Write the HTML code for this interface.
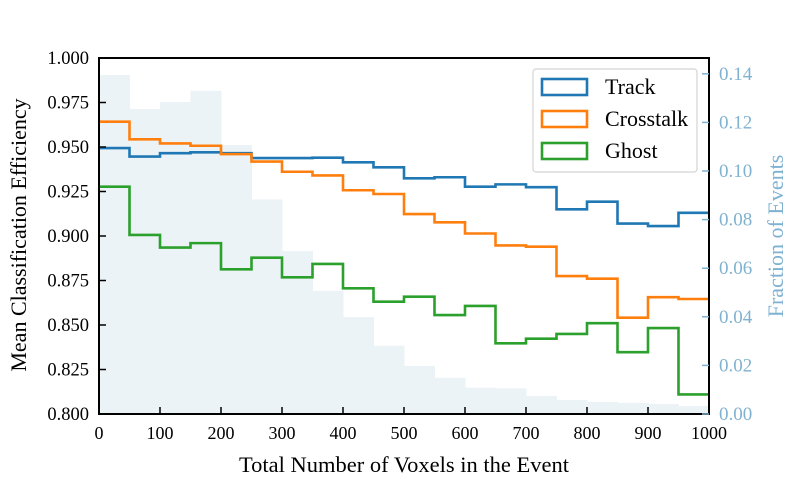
<!DOCTYPE html>
<html><head><meta charset="utf-8"><style>
html,body{margin:0;padding:0;background:#fff;}
svg{display:block;font-family:"Liberation Serif",serif;}
</style></head><body>
<svg id="chart" width="789" height="488" viewBox="0 0 789 488" xmlns="http://www.w3.org/2000/svg"></svg>
<script>
const binEdges=[0,50,100,150,200,250,300,350,400,450,500,550,600,650,700,750,800,850,900,950,1000];
const trackVals=[0.9494,0.9446,0.9465,0.947,0.9465,0.9438,0.9438,0.944,0.9414,0.9386,0.9324,0.933,0.9277,0.929,0.9274,0.915,0.9193,0.907,0.9056,0.913];
const crosstalkVals=[0.9642,0.9543,0.952,0.9507,0.946,0.9418,0.9361,0.934,0.9257,0.9236,0.9123,0.9077,0.9014,0.8947,0.894,0.8775,0.876,0.8541,0.8656,0.8646];
const ghostVals=[0.9277,0.9006,0.8935,0.896,0.8813,0.8878,0.8768,0.8843,0.8706,0.8631,0.8659,0.8556,0.8607,0.8397,0.8423,0.845,0.851,0.8347,0.8483,0.811];
const fractionVals=[0.1395,0.1255,0.1284,0.133,0.1107,0.0883,0.067,0.0507,0.0399,0.0281,0.0198,0.0149,0.0108,0.0106,0.0074,0.0058,0.005,0.0046,0.0041,0.0033];
const xTicks=[0,100,200,300,400,500,600,700,800,900,1000];
const yTicks=[0.800,0.825,0.850,0.875,0.900,0.925,0.950,0.975,1.000];
const y2Ticks=[0,0.02,0.04,0.06,0.08,0.10,0.12,0.14];

const L=99,R=709,T=58,B=414;
const NS="http://www.w3.org/2000/svg";
const svg=document.getElementById('chart');
function X(v){return L+(v-0)/(1000-0)*(R-L);}
function Y(v){return B-(v-0.8)/(0.2)*(B-T);}
function Y2(v){return B-v/0.02*48.6;}
function mk(tag,attrs,parent){const e=document.createElementNS(NS,tag);for(const k in attrs)e.setAttribute(k,attrs[k]);(parent||svg).appendChild(e);return e;}

const hist=mk('g',{});


fractionVals.forEach((f,i)=>{
  const r=mk('rect',{x:X(binEdges[i]),y:Y2(f),width:X(binEdges[i+1])-X(binEdges[i])+0.5,height:B-Y2(f),fill:'#ebf3f7'},hist);
  
  
});

function stepPath(vals){
  let d='M'+X(binEdges[0])+','+Y(vals[0]);
  vals.forEach((v,i)=>{d+=' L'+X(binEdges[i])+','+Y(v)+' L'+X(binEdges[i+1])+','+Y(v);});
  return d;
}
const series=[['track-line',trackVals,'#1f77b4'],['crosstalk-line',crosstalkVals,'#ff7f0e'],['ghost-line',ghostVals,'#2ca02c']];
series.forEach(s=>{
  const p=mk('path',{d:stepPath(s[1]),fill:'none',stroke:s[2],'stroke-width':2.6});
  
  
});

const fr=mk('rect',{x:L,y:T,width:R-L,height:B-T,fill:'none',stroke:'#000','stroke-width':2});



xTicks.forEach(t=>{
  mk('line',{x1:X(t),x2:X(t),y1:B,y2:B-7,stroke:'#000','stroke-width':1.5});
  const tx=mk('text',{x:X(t),y:B+25,'text-anchor':'middle','font-size':18,fill:'#000'});
  tx.textContent=t;
  
  
});
yTicks.forEach(t=>{
  mk('line',{x1:L,x2:L+7,y1:Y(t),y2:Y(t),stroke:'#000','stroke-width':1.5});
  const tx=mk('text',{x:L-10,y:Y(t)+6,'text-anchor':'end','font-size':18.5,fill:'#000'});
  tx.textContent=t.toFixed(3);
  
  
});
y2Ticks.forEach(t=>{
  mk('line',{x1:R,x2:R-7,y1:Y2(t),y2:Y2(t),stroke:'#7fb2d1','stroke-width':1.5});
  const tx=mk('text',{x:R+10,y:Y2(t)+6,'text-anchor':'start','font-size':19,fill:'#7fb2d1'});
  tx.textContent=t.toFixed(2);
  
  
});

const xt=mk('text',{x:404,y:472,'text-anchor':'middle','font-size':22.5,fill:'#000'});
xt.textContent='Total Number of Voxels in the Event';


const yt=mk('text',{x:0,y:0,'text-anchor':'middle','font-size':22,fill:'#000',transform:'translate(26,235) rotate(-90)'});
yt.textContent='Mean Classification Efficiency';


const y2t=mk('text',{x:0,y:0,'text-anchor':'middle','font-size':22,fill:'#7fb2d1',transform:'translate(783,236) rotate(-90)'});
y2t.textContent='Fraction of Events';



const lg=mk('g',{});


mk('rect',{x:533,y:69,width:164,height:103,rx:3,fill:'#fff','fill-opacity':0.85,stroke:'#d4d4d4','stroke-width':1.2},lg);
const labels=['Track','Crosstalk','Ghost'];
labels.forEach((n,i)=>{
  const cy=87+i*32;
  const r=mk('rect',{x:542,y:cy-8,width:45,height:16,fill:'none',stroke:series[i][2],'stroke-width':2.6},lg);
  
  
  const t=mk('text',{x:605,y:cy+7,'font-size':22,fill:'#000'},lg);
  t.textContent=n;
  
  
});
</script>
</body></html>
